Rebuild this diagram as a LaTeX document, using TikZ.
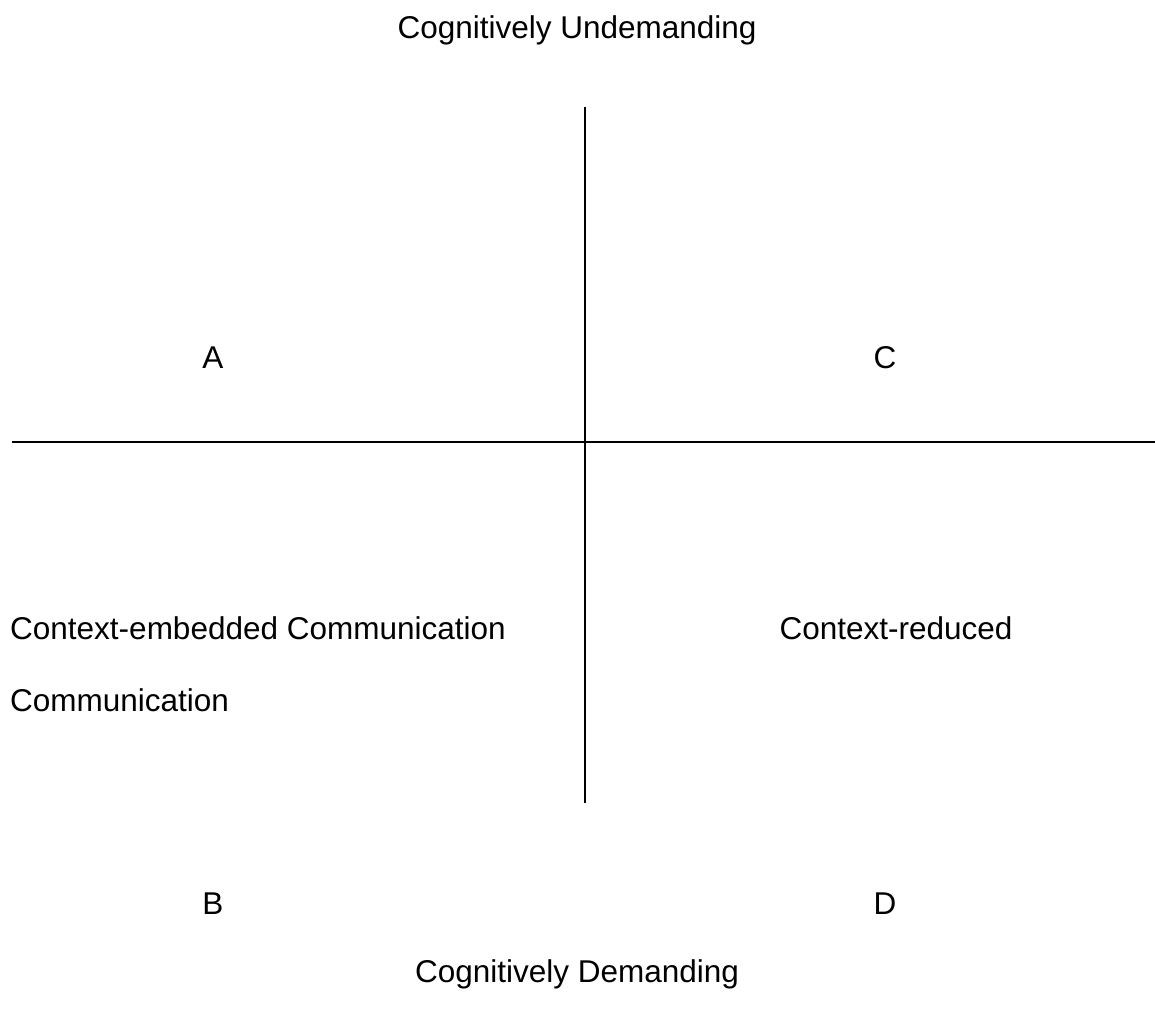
\documentclass[tikz,border=0pt]{standalone}
\usepackage{fontspec}
\setmainfont{Liberation Sans}
\begin{document}
\begin{tikzpicture}[x=1pt,y=-1pt,
  lbl/.style={inner sep=0pt,anchor=base,font=\fontsize{31.5}{36}\selectfont},
  lbll/.style={lbl,anchor=base west},
  axis/.style={line width=1.8pt,black}]
\useasboundingbox (0,0) rectangle (1155,1019);
\coordinate (vt) at (585,107);
\coordinate (vb) at (585,803);
\coordinate (hl) at (12,442);
\coordinate (hr) at (1155,442);
\draw[axis] (vt) -- (vb);
\draw[axis] (hl) -- (hr);
\node[lbl] (top) at (577,39) {Cognitively Undemanding};
\node[lbl] (a) at (213,368) {A};
\node[lbl] (c) at (885,368) {C};
\node[lbll] (ce) at (10,639) {Context-embedded Communication};
\node[lbl] (cr) at (896,639) {Context-reduced};
\node[lbll] (cm) at (10,711) {Communication};
\node[lbl] (b) at (213,914) {B};
\node[lbl] (d) at (885,914) {D};
\node[lbl] (bot) at (577,982) {Cognitively Demanding};
\end{tikzpicture}
\end{document}
